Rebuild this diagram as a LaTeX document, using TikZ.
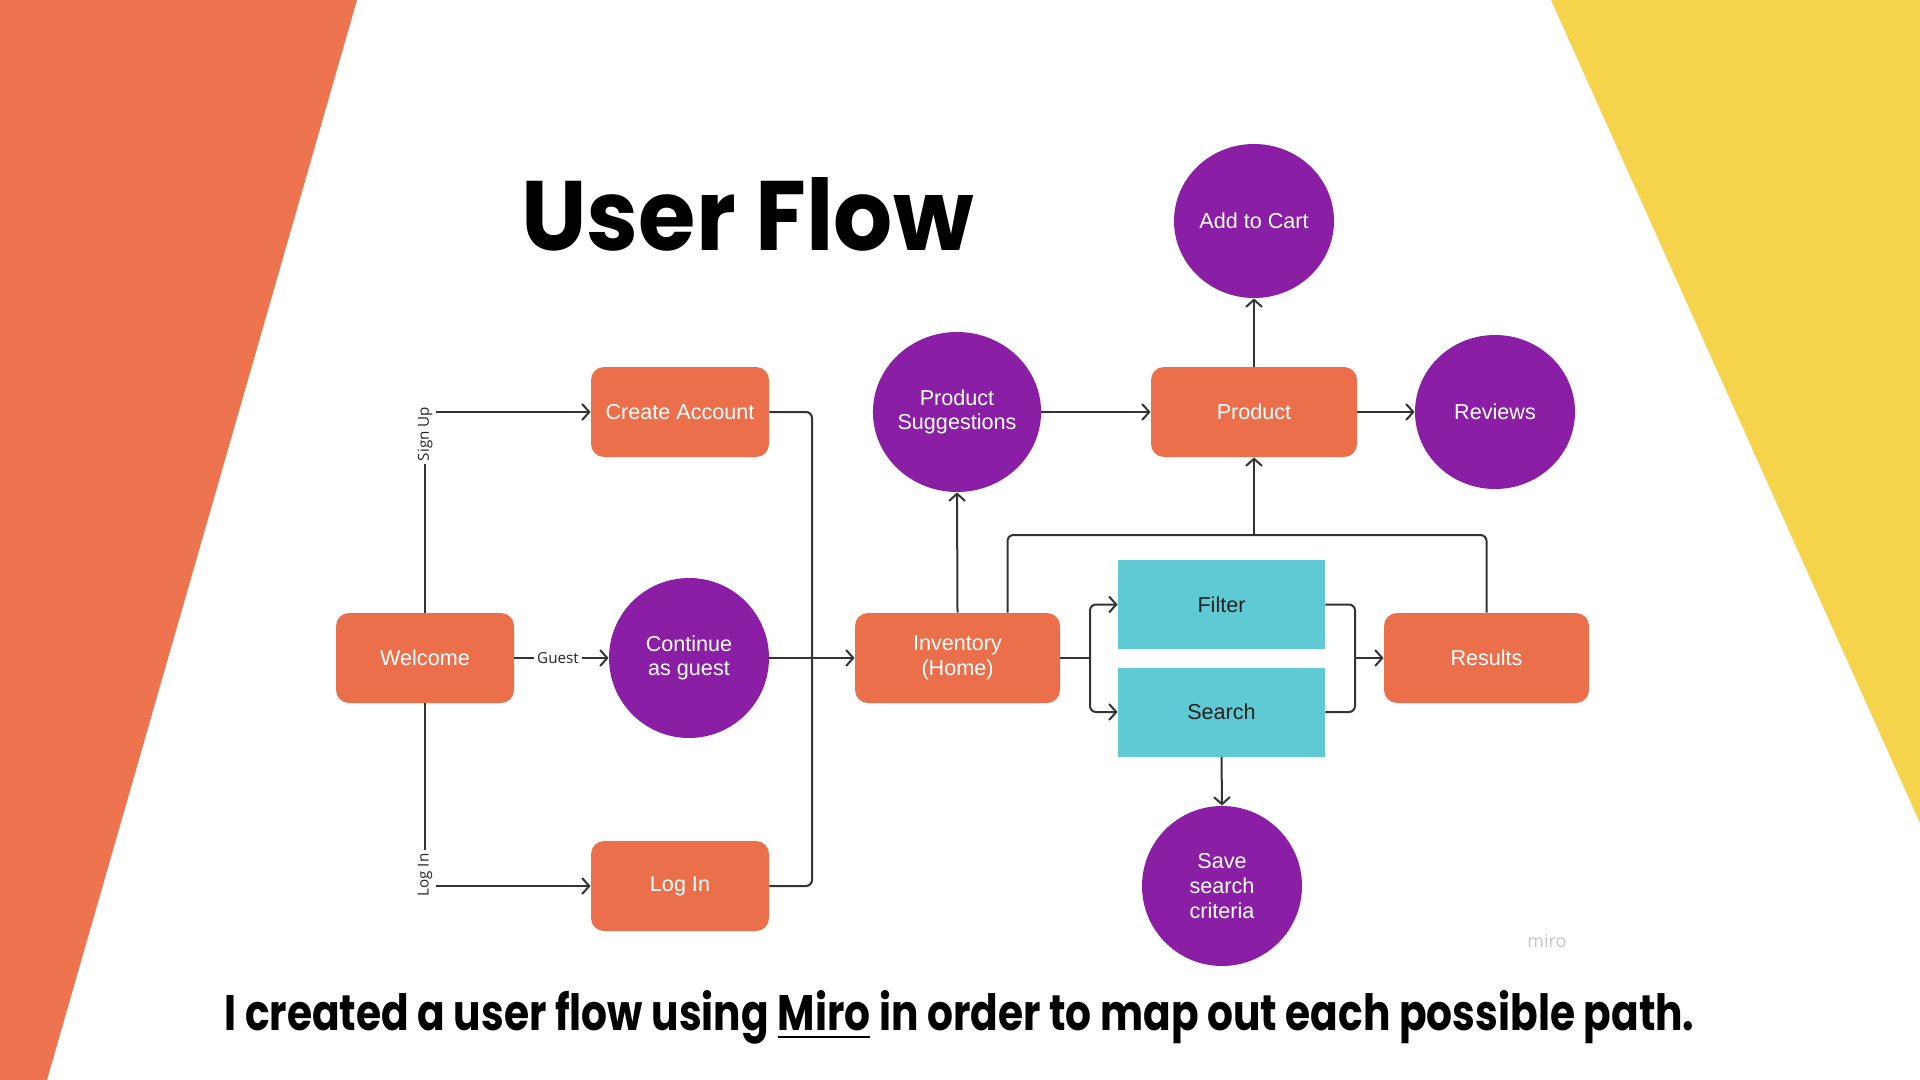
\documentclass[tikz,border=0pt]{standalone}
\usepackage{fontspec}
\setmainfont{Liberation Sans}
\newfontfamily\poppins{Poppins}
\newfontfamily\opensans{Open Sans}
\usetikzlibrary{arrows.meta,shapes.geometric,calc}
\definecolor{bgorange}{HTML}{EE7450}
\definecolor{bgyellow}{HTML}{F5D34A}
\definecolor{nodeorange}{HTML}{EC6F4B}
\definecolor{nodepurple}{HTML}{8A1FA6}
\definecolor{nodeteal}{HTML}{5FCAD3}
\definecolor{linegray}{HTML}{333333}
\definecolor{mirogray}{HTML}{C6C6CF}
\tikzset{
  orangebox/.style={draw=none, fill=nodeorange, rounded corners=6.5pt, minimum width=89pt, minimum height=45pt, text=white, font=\fontsize{10.8}{12.3}\selectfont, align=center, inner sep=2pt},
  widebox/.style={orangebox, minimum width=103pt},
  tealbox/.style={draw=none, fill=nodeteal, minimum width=103.5pt, minimum height=44.5pt, text=black!87, font=\fontsize{10.8}{12.3}\selectfont, align=center},
  purplecirc/.style={ellipse, draw=none, fill=nodepurple, minimum width=80pt, minimum height=80pt, text=white, font=\fontsize{10.8}{12.3}\selectfont, align=center, inner sep=0pt},
  edgelbl/.style={font=\opensans\fontsize{7.6}{9}\selectfont, text=black!85, inner sep=1.5pt},
  conn/.style={draw=linegray, line width=1pt, rounded corners=3pt},
  arr/.style={conn, -{Straight Barb[length=3.6pt,width=8pt,line width=1pt]}}
}
\begin{document}
\begin{tikzpicture}[x=0.5pt,y=-0.5pt]
\useasboundingbox (0,0) rectangle (1920,1080);
\fill[white] (0,0) rectangle (1920,1080);
% background shapes
\fill[bgorange] (0,0) -- (357,0) -- (47,1080) -- (0,1080) -- cycle;
\fill[bgyellow] (1551,0) -- (1920,0) -- (1920,823) -- cycle;

% titles
\node[anchor=base west, inner sep=0pt] (title) at (521,251) {\resizebox{226pt}{36.5pt}{\poppins\bfseries User Flow}};
\node[anchor=base west, inner sep=0pt] (subtitle) at (224,1030) {\resizebox{735pt}{20pt}{\poppins\bfseries I created a user flow using \underline{Miro} in order to map out each possible path.}};
\node[font=\opensans\fontsize{9}{10}\selectfont, text=mirogray, inner sep=0pt] (miro) at (1547,941) {miro};

% nodes
\node[orangebox] (welcome) at (425,658) {Welcome};
\node[orangebox] (create) at (680,412) {Create Account};
\node[orangebox] (login) at (680,886) {Log In};
\node[purplecirc] (guest) at (689,658) {Continue\\as guest};
\node[widebox, minimum width=102.5pt] (inv) at (957.5,658) {Inventory\\(Home)};
\node[purplecirc, minimum width=83.5pt] (ps) at (957,412) {Product\\Suggestions};
\node[widebox] (prod) at (1254,412) {Product};
\node[purplecirc, minimum height=77pt] (cart) at (1254,221) {Add to Cart};
\node[purplecirc, minimum height=77pt] (rev) at (1495,412) {Reviews};
\node[tealbox] (filter) at (1221.5,604.5) {Filter};
\node[tealbox] (search) at (1221.5,712) {Search};
\node[widebox, minimum width=102.5pt] (res) at (1486.5,658) {Results};
\node[purplecirc] (save) at (1222,886) {Save\\search\\criteria};

% edge labels
\node[edgelbl, rotate=90] (signup) at (425,434) {Sign Up};
\node[edgelbl, rotate=90] (loginlbl) at (425,875) {Log In};
\node[edgelbl] (guestlbl) at (558,658) {Guest};

% helper coordinates
\coordinate (bus) at (812,658);
\coordinate (topbus) at (1254,535);
\coordinate (split) at (1090,658);
\coordinate (merge) at (1355,658);

% connectors
\draw[conn] (welcome.north) -- (signup.west);
\draw[arr] (signup.south |- create.west) -- (create.west);
\draw[conn] (welcome.south) -- (loginlbl.east);
\draw[arr] (loginlbl.south |- login.west) -- (login.west);
\draw[conn] (welcome.east) -- (guestlbl.west);
\draw[arr] (guestlbl.east) -- (guest.west);

\draw[conn] (create.east) -| (bus);
\draw[conn] (login.east) -| (bus);
\draw[arr] (guest.east) -- (inv.west);

\draw[arr] (inv.north) -- (ps.south);
\draw[arr] (ps.east) -- (prod.west);
\draw[conn] ([xshift=25pt]inv.north) |- (topbus);
\draw[conn] (res.north) |- (topbus);
\draw[arr] (topbus) -- (prod.south);
\draw[arr] (prod.north) -- (cart.south);
\draw[arr] (prod.east) -- (rev.west);

\draw[conn] (inv.east) -- (split);
\draw[arr] (split) |- (filter.west);
\draw[arr] (split) |- (search.west);
\draw[conn] (filter.east) -| (merge);
\draw[conn] (search.east) -| (merge);
\draw[arr] (merge) -- (res.west);
\draw[arr] (search.south) -- (save.north);
\end{tikzpicture}
\end{document}
